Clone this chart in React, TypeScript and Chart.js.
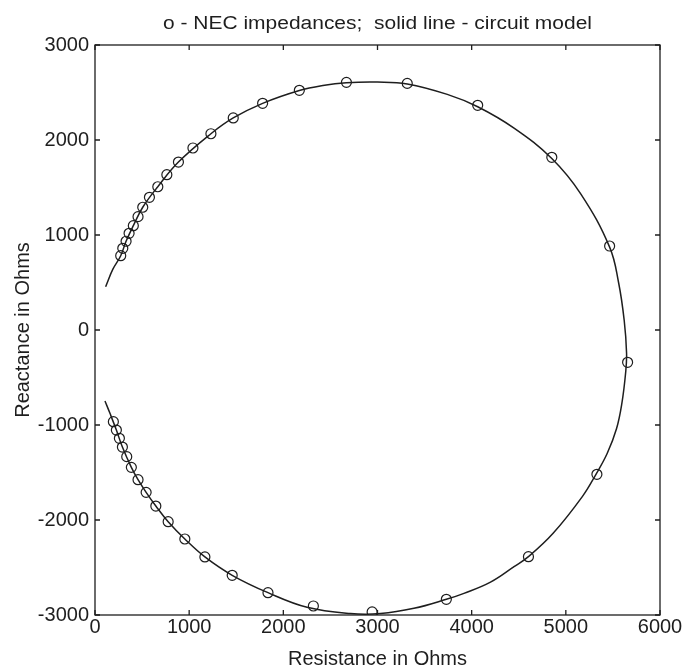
import React, { useEffect, useRef } from "react";
import { Chart, registerables } from "chart.js";

Chart.register(...registerables);

const titleText = "o - NEC impedances;  solid line - circuit model";
const xTitle = "Resistance in Ohms";
const yTitle = "Reactance in Ohms";

const xTicks = [0, 1000, 2000, 3000, 4000, 5000, 6000];
const yTicks = [-3000, -2000, -1000, 0, 1000, 2000, 3000];

// NEC impedances (open circles): resistance / reactance in ohms
const necR = [
  273, 295, 330, 362, 407, 457, 507, 578, 667, 763, 886, 1040, 1231, 1468, 1780, 2170, 2670,
  3316, 4064, 4851, 5465, 5656, 5330, 4603, 3731, 2943, 2319, 1837, 1457, 1167, 954, 777, 646,
  543, 457, 386, 337, 291, 259, 227, 195,
];
const necX = [
  782, 860, 934, 1018, 1098, 1193, 1292, 1397, 1508, 1635, 1768, 1916, 2066, 2232, 2386, 2523,
  2607, 2596, 2365, 1818, 884, -340, -1519, -2386, -2835, -2968, -2905, -2765, -2582, -2389,
  -2200, -2018, -1853, -1709, -1576, -1446, -1333, -1232, -1140, -1053, -965,
];

// circuit model (solid line)
const modelR = [
  113, 190, 273, 330, 407, 507, 667, 886, 1231, 1468, 1780, 2170, 2420, 2670, 3000, 3316, 3741,
  4064, 4450, 4851, 5160, 5465, 5560, 5620, 5645, 5635, 5595, 5538, 5440, 5320, 5175, 4865, 4603,
  4450, 4200, 3918, 3731, 3387, 3032, 2713, 2252, 1837, 1457, 1167, 954, 777, 646, 543, 457, 386,
  291, 227, 160, 106,
];
const modelX = [
  456, 640, 782, 934, 1098, 1292, 1508, 1768, 2066, 2232, 2386, 2521, 2574, 2603, 2610, 2590,
  2480, 2350, 2125, 1805, 1430, 872, 500, 100, -245, -450, -772, -1040, -1298, -1519, -1754,
  -2140, -2386, -2491, -2654, -2772, -2835, -2930, -2985, -2985, -2919, -2765, -2582, -2389,
  -2200, -2018, -1853, -1709, -1576, -1446, -1232, -1053, -880, -747,
];

const FONT = "'Liberation Sans', Arial, Helvetica, sans-serif";
const INK = "#1e1e1e";

const framePlugin = {
  id: "frameAndText",
  afterDraw(chart: any) {
    const { ctx, chartArea } = chart;
    const { left, right, top, bottom } = chartArea;
    const xs = chart.scales.x;
    const ys = chart.scales.y;
    ctx.save();
    ctx.strokeStyle = INK;
    ctx.lineWidth = 1.3;
    ctx.strokeRect(left, top, right - left, bottom - top);
    const tl = 5;
    ctx.beginPath();
    xTicks.forEach((v) => {
      const px = xs.getPixelForValue(v);
      ctx.moveTo(px, bottom);
      ctx.lineTo(px, bottom - tl);
      ctx.moveTo(px, top);
      ctx.lineTo(px, top + tl);
    });
    yTicks.forEach((v) => {
      const py = ys.getPixelForValue(v);
      ctx.moveTo(left, py);
      ctx.lineTo(left + tl, py);
      ctx.moveTo(right, py);
      ctx.lineTo(right - tl, py);
    });
    ctx.stroke();

    ctx.fillStyle = INK;
    // title
    ctx.font = `18px ${FONT}`;
    ctx.textAlign = "center";
    ctx.textBaseline = "alphabetic";
    const cx = (left + right) / 2;
    const w = ctx.measureText(titleText).width;
    const sx = 429 / w;
    ctx.save();
    ctx.translate(cx, 29);
    ctx.scale(sx, 1);
    ctx.fillText(titleText, 0, 0);
    ctx.restore();

    // axis titles
    ctx.font = `20px ${FONT}`;
    ctx.textBaseline = "alphabetic";
    ctx.fillText(xTitle, cx, 665);
    ctx.save();
    ctx.translate(29, (top + bottom) / 2);
    ctx.rotate(-Math.PI / 2);
    ctx.fillText(yTitle, 0, 0);
    ctx.restore();
    ctx.restore();
  },
};

export default function App() {
  const ref = useRef<HTMLCanvasElement | null>(null);

  useEffect(() => {
    if (!ref.current) return;
    const chart = new Chart(ref.current, {
      type: "scatter",
      data: {
        datasets: [
          {
            label: "circuit model",
            data: modelR.map((r, i) => ({ x: r, y: modelX[i] })),
            showLine: true,
            borderColor: INK,
            borderWidth: 1.5,
            pointRadius: 0,
            tension: 0.4,
            fill: false,
            order: 2,
          },
          {
            label: "NEC impedances",
            data: necR.map((r, i) => ({ x: r, y: necX[i] })),
            showLine: false,
            pointStyle: "circle",
            pointRadius: 5,
            borderColor: INK,
            borderWidth: 1.2,
            backgroundColor: "rgba(0,0,0,0)",
            order: 1,
          },
        ],
      },
      options: {
        animation: false,
        responsive: false,
        events: [],
        layout: { padding: { left: 0, right: 23, top: 45, bottom: 0 } },
        plugins: {
          legend: { display: false },
          tooltip: { enabled: false },
          title: { display: false },
        },
        scales: {
          x: {
            type: "linear",
            min: 0,
            max: 6000,
            grid: { display: false, drawTicks: false },
            border: { display: false },
            afterBuildTicks: (s: any) => {
              s.ticks = xTicks.map((v) => ({ value: v }));
            },
            afterFit: (s: any) => {
              s.height = 51;
            },
            ticks: {
              padding: 0,
              color: INK,
              font: { family: FONT, size: 20 },
              maxRotation: 0,
              callback: (v: any) => String(v),
            },
          },
          y: {
            type: "linear",
            min: -3000,
            max: 3000,
            grid: { display: false, drawTicks: false },
            border: { display: false },
            afterBuildTicks: (s: any) => {
              s.ticks = yTicks.map((v) => ({ value: v }));
            },
            afterFit: (s: any) => {
              s.width = 95;
            },
            ticks: {
              padding: 6,
              color: INK,
              font: { family: FONT, size: 20 },
              callback: (v: any) => String(v),
            },
          },
        },
      },
      plugins: [framePlugin],
    });
    return () => chart.destroy();
  }, []);

  return (
    <div style={{ position: "fixed", left: 0, top: 0, width: 683, height: 666, background: "#fff" }}>
      <canvas ref={ref} width={683} height={666} style={{ display: "block" }} />
    </div>
  );
}
